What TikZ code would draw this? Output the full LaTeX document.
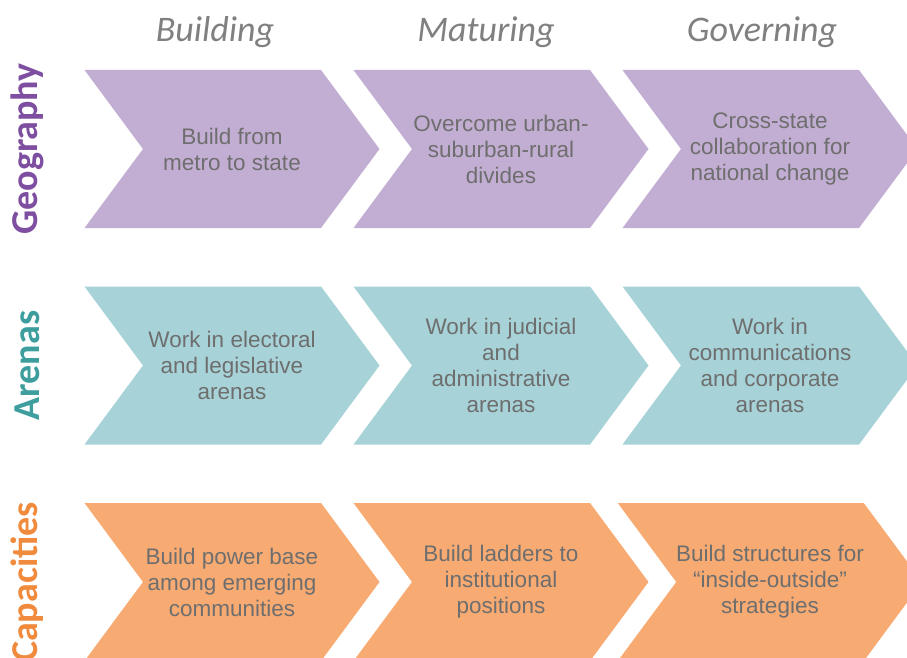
\documentclass[tikz,border=0pt]{standalone}
\usepackage{fontspec}
\setmainfont{Liberation Sans}
\newfontfamily\labfont{Carlito}
\usetikzlibrary{shapes.symbols,positioning}
\definecolor{geofill}{HTML}{C3AED3}
\definecolor{arefill}{HTML}{A7D3D8}
\definecolor{capfill}{HTML}{F7AB73}
\definecolor{geolab}{HTML}{7E4FA0}
\definecolor{arelab}{HTML}{3E9E9E}
\definecolor{caplab}{HTML}{F08A3C}
\definecolor{bodygray}{HTML}{6E6E6E}
\definecolor{headgray}{HTML}{808080}

\begin{document}
\begin{tikzpicture}[x=1pt,y=-1pt,node distance=216.5pt and 269pt,on grid,
  chevron/.style={signal,signal from=west,signal to=east,signal pointer angle=107,
    minimum width=295pt,minimum height=158pt,inner sep=0pt,align=center,
    text=bodygray,font=\fontsize{22.5}{26}\selectfont},
  head/.style={text=headgray,font=\labfont\itshape\fontsize{36}{40}\selectfont},
  rowlab/.style={rotate=90,font=\labfont\bfseries\fontsize{38}{40}\selectfont}]
  \clip (0,0) rectangle (907,658);
  % first row
  \node[chevron,fill=geofill] (g1) at (232,149) {Build from\\metro to state};
  \node[chevron,fill=geofill] (g2) [right = of g1] {Overcome urban-\\suburban-rural\\divides};
  \node[chevron,fill=geofill] (g3) [right = of g2] {Cross-state\\collaboration for\\national change};
  % second row
  \node[chevron,fill=arefill] (a1) [below = of g1] {Work in electoral\\and legislative\\arenas};
  \node[chevron,fill=arefill] (a2) [right = of a1] {Work in judicial\\and\\administrative\\arenas};
  \node[chevron,fill=arefill] (a3) [right = of a2] {Work in\\communications\\and corporate\\arenas};
  % third row
  \node[chevron,fill=capfill] (c1) [below = of a1] {Build power base\\among emerging\\communities};
  \node[chevron,fill=capfill] (c2) [right = of c1] {Build ladders to\\institutional\\positions};
  \node[chevron,fill=capfill] (c3) [right = of c2] {Build structures for\\``inside-outside''\\strategies};
  % column heads
  \node[head] (hbuild) [above left = 117pt and 17pt of g1] {Building};
  \node[head] (hmature) [above left = 117pt and 15pt of g2] {Maturing};
  \node[head] (hgovern) [above left = 117pt and 8pt of g3] {Governing};
  % row labels
  \node[rowlab,text=geolab] (lgeo) [left = 205pt of g1] {Geography};
  \node[rowlab,text=arelab] (lare) [left = 205pt of a1] {Arenas};
  \node[rowlab,text=caplab] (lcap) [left = 205pt of c1] {Capacities};
\end{tikzpicture}
\end{document}
